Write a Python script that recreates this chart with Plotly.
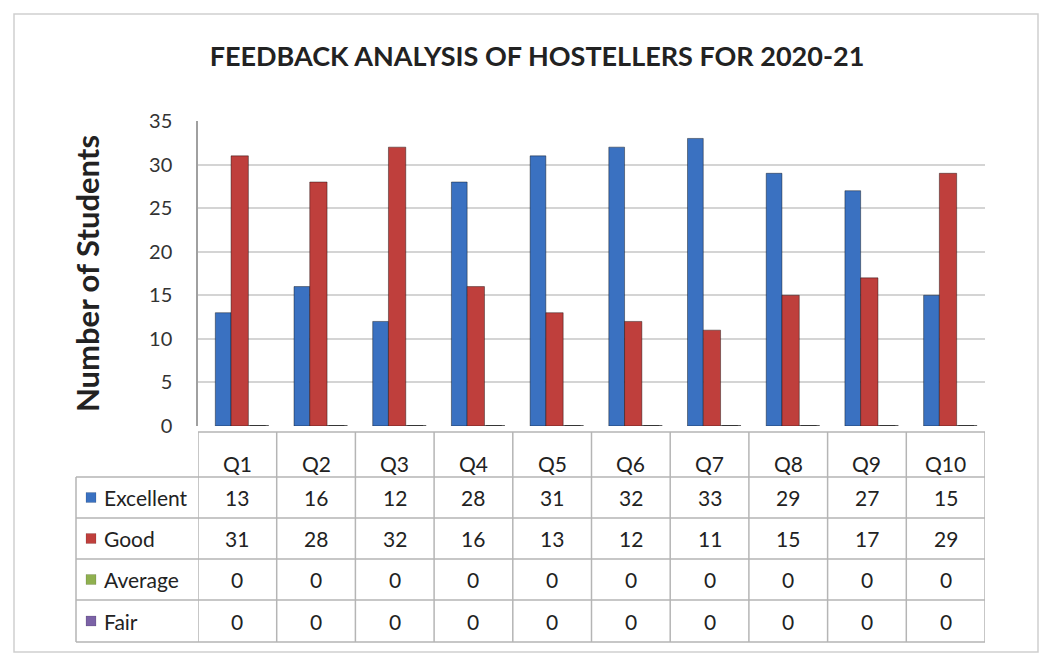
import plotly.graph_objects as go

categories = ["Q1", "Q2", "Q3", "Q4", "Q5", "Q6", "Q7", "Q8", "Q9", "Q10"]
excellent = [13, 16, 12, 28, 31, 32, 33, 29, 27, 15]
good = [31, 28, 32, 16, 13, 12, 11, 15, 17, 29]
average = [0, 0, 0, 0, 0, 0, 0, 0, 0, 0]
fair = [0, 0, 0, 0, 0, 0, 0, 0, 0, 0]
series_names = ["Excellent", "Good", "Average", "Fair"]
series_values = [excellent, good, average, fair]
colors = ["#3a71c1", "#bf3f3c", "#8fb04f", "#7b62a6"]
y_ticks = [0, 5, 10, 15, 20, 25, 30, 35]

W, H = 1043, 656
px = lambda v: v / W
py = lambda v: 1 - v / H

fig = go.Figure()
offsets = [-0.28, -0.08, 0.14, 0.16]
widths = [0.2, 0.22, 0.26, 0.2]
for i in [3, 0, 1, 2]:
    fig.add_trace(go.Bar(
        x=categories, y=series_values[i], name=series_names[i],
        marker=dict(color=colors[i],
                    line=dict(color="#2a2a2a" if i >= 2 else "rgba(0,0,0,0.4)",
                              width=1.5 if i >= 2 else 1)),
        offset=offsets[i], width=widths[i], showlegend=False,
    ))

# ---- data table (drawn with shapes + annotations aligned to the category axis)
line_col = "#b5b5b5"
tbl_left = 76
row_edges = [432, 477, 518, 559, 600, 642]   # header, 4 series rows
shapes = []
annotations = []
n = len(categories)
for k in range(n + 1):
    shapes.append(dict(type="line", xref="x", yref="paper", x0=k - 0.5, x1=k - 0.5,
                       y0=py(row_edges[0]), y1=py(row_edges[-1]),
                       line=dict(color=line_col, width=1.5)))
shapes.append(dict(type="line", xref="paper", yref="paper", x0=px(tbl_left), x1=px(tbl_left),
                   y0=py(row_edges[1]), y1=py(row_edges[-1]), line=dict(color=line_col, width=1.5)))
for r, yv in enumerate(row_edges):
    if r == 0:
        shapes.append(dict(type="line", xref="x", yref="paper", x0=-0.5, x1=n - 0.5,
                           y0=py(yv), y1=py(yv), line=dict(color=line_col, width=1.5)))
    else:
        shapes.append(dict(type="line", xref="paper", yref="paper", x0=px(tbl_left), x1=px(985),
                           y0=py(yv), y1=py(yv), line=dict(color=line_col, width=1.5)))
for c in categories:
    annotations.append(dict(xref="x", yref="paper", x=c, y=py((row_edges[0] + row_edges[1]) / 2 + 9),
                            text=c, showarrow=False, yanchor="middle",
                            font=dict(family="Lato", size=21, color="#222")))
for i, name in enumerate(series_names):
    yc = (row_edges[i + 1] + row_edges[i + 2]) / 2
    shapes.append(dict(type="rect", xref="paper", yref="paper",
                       x0=px(86), x1=px(96), y0=py(yc - 5), y1=py(yc + 5),
                       fillcolor=colors[i], line=dict(color="rgba(0,0,0,0.25)", width=0.5)))
    annotations.append(dict(xref="paper", yref="paper", x=px(102), y=py(yc), text=name,
                            showarrow=False, xanchor="left", yanchor="middle",
                            font=dict(family="Lato", size=21, color="#222")))
    for j, c in enumerate(categories):
        annotations.append(dict(xref="x", yref="paper", x=c, y=py(yc), text=str(series_values[i][j]),
                                showarrow=False, yanchor="middle",
                                font=dict(family="Lato", size=21, color="#222")))

shapes.append(dict(type="rect", xref="paper", yref="paper",
                   x0=px(14), x1=px(1038), y0=py(652), y1=py(14),
                   line=dict(color="#cfcfcf", width=1.5)))

fig.update_layout(
    width=W, height=H,
    margin=dict(l=0, r=0, t=0, b=0),
    paper_bgcolor="white", plot_bgcolor="white",
    barmode="group",
    title=dict(text="<b>FEEDBACK ANALYSIS OF HOSTELLERS FOR 2020-21</b>",
               x=px(537), xanchor="center", y=py(57), yanchor="middle",
               font=dict(family="Lato", size=27, color="#222")),
    xaxis=dict(domain=[px(198), px(985)], showticklabels=False, automargin=False,
               showgrid=False, showline=False, ticks="", range=[-0.5, 9.5]),
    yaxis=dict(domain=[py(426), py(121)], range=[0, 35], tickvals=y_ticks, automargin=False,
               showgrid=True, gridcolor="#d4d4d4", gridwidth=1.5,
               showline=True, linecolor="#a0a0a0", linewidth=1.5,
               zeroline=False, ticks="", ticklabelstandoff=20,
               tickfont=dict(family="Lato", size=20, color="#333"),
               title=dict(text="<b>Number of Students</b>", standoff=40,
                          font=dict(family="Lato", size=31, color="#222"))),
    shapes=shapes,
    annotations=annotations,
)

fig.write_html("out.html", config={"displayModeBar": False},
               post_script="document.body.style.margin='0';document.body.style.padding='0';")
